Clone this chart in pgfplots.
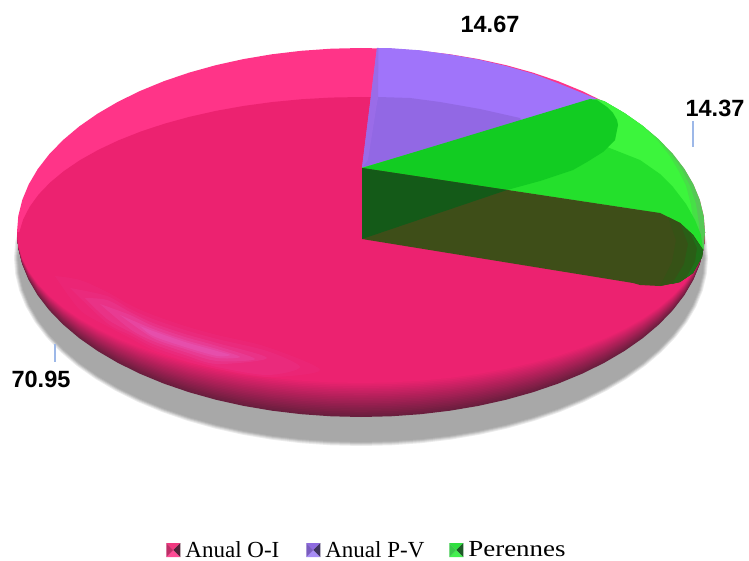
\documentclass[border=0pt]{standalone}
\usepackage{pgfplots}
\usepackage{pgfplotstable}
\usepackage{fontspec}
\pgfplotsset{compat=1.18}
\setmainfont{Liberation Serif}
\newfontfamily\lblfont{Liberation Sans}[BoldFont={Liberation Sans Bold}]
\definecolor{piemain}{HTML}{EC2270}
\definecolor{piedark}{HTML}{6A1E3E}
\definecolor{pielight}{HTML}{FF3488}
\definecolor{pglow}{HTML}{E66ED6}
\definecolor{lead}{HTML}{9DB8E8}
\definecolor{purpleband}{HTML}{A074FA}
\definecolor{purpleinner}{HTML}{9268E4}
\definecolor{purpleedge}{HTML}{9A6CE8}
\definecolor{greenrim}{HTML}{55C855}
\definecolor{greenhalf}{HTML}{46E046}
\definecolor{greenlight}{HTML}{3CF53C}
\definecolor{greenmid}{HTML}{24E02C}
\definecolor{greendeep}{HTML}{12CC22}
\definecolor{wallolive}{HTML}{3E4E18}
\definecolor{wallgreenA}{HTML}{365216}
\definecolor{wallgreenB}{HTML}{2A5E16}
\definecolor{wallgreenC}{HTML}{1E7018}
\definecolor{walldark}{HTML}{145A18}
\pgfplotstableread{
c s
1.0000 0.0000
0.9962 0.0872
0.9848 0.1736
0.9659 0.2588
0.9397 0.3420
0.9063 0.4226
0.8660 0.5000
0.8192 0.5736
0.7660 0.6428
0.7071 0.7071
0.6428 0.7660
0.5736 0.8192
0.5000 0.8660
0.4226 0.9063
0.3420 0.9397
0.2588 0.9659
0.1736 0.9848
0.0872 0.9962
0.0000 1.0000
-0.0872 0.9962
-0.1736 0.9848
-0.2588 0.9659
-0.3420 0.9397
-0.4226 0.9063
-0.5000 0.8660
-0.5736 0.8192
-0.6428 0.7660
-0.7071 0.7071
-0.7660 0.6428
-0.8192 0.5736
-0.8660 0.5000
-0.9063 0.4226
-0.9397 0.3420
-0.9659 0.2588
-0.9848 0.1736
-0.9962 0.0872
-1.0000 0.0000
}\halftab
% #1 colour, #2 sign (1 upper, -1 lower), #3 cx, #4 cy, #5 rx, #6 ry
\newcommand{\halfell}[6]{\addplot[forget plot,no markers,draw=none,fill=#1] table[x expr={#3+#5*\thisrow{c}},y expr={#4-(#2)*(#6)*\thisrow{s}}] \halftab;}
\newcommand{\shadowell}[3]{\halfell{#1}{1}{361}{258}{#2}{#3}\halfell{#1}{-1}{361}{258}{#2}{#3}}
\newcommand{\glow}[2]{\addplot[forget plot,no markers,smooth,draw=none,fill=pglow,fill opacity=#1] coordinates {#2};}
\newcommand{\poly}[2]{\addplot[forget plot,no markers,draw=none,fill=#1] coordinates {#2};}
\newcommand{\icon}[4]{%
  \path[draw=none,fill=#1] (0pt,-7pt)--(7pt,0pt)--(14pt,-7pt)--cycle;
  \path[draw=none,fill=#2] (0pt,-7pt)--(7pt,0pt)--(0pt,7pt)--cycle;
  \path[draw=none,fill=#3] (0pt,7pt)--(7pt,0pt)--(14pt,7pt)--cycle;
  \path[draw=none,fill=#4] (14pt,-7pt)--(7pt,0pt)--(14pt,7pt)--cycle;}
\definecolor{iA}{HTML}{FF4C96}\definecolor{iB}{HTML}{C02E68}\definecolor{iC}{HTML}{F0387F}\definecolor{iD}{HTML}{52243A}
\definecolor{jA}{HTML}{A78CF5}\definecolor{jB}{HTML}{7A5CC0}\definecolor{jC}{HTML}{8E6AE0}\definecolor{jD}{HTML}{403560}
\definecolor{kA}{HTML}{44F050}\definecolor{kB}{HTML}{3AC84A}\definecolor{kC}{HTML}{30E040}\definecolor{kD}{HTML}{1E5A28}
\begin{document}
\begin{tikzpicture}
\begin{axis}[
  scale only axis,width=749pt,height=560pt,
  xmin=0,xmax=749,ymin=0,ymax=560,y dir=reverse,
  hide axis,
  legend style={at={(axis cs:367,550)},anchor=center,draw=none,fill=none,
    legend columns=3,font=\fontsize{23}{23}\selectfont,
    /tikz/column 1/.style={column sep=3pt},
    /tikz/column 2/.style={column sep=25pt},
    /tikz/column 3/.style={column sep=3pt},
    /tikz/column 4/.style={column sep=23pt},
    /tikz/column 5/.style={column sep=3pt},
    inner sep=0pt,outer sep=0pt},
  legend cell align=left,
]
\path (axis cs:0,0) rectangle (axis cs:749,560);
% shadow
\shadowell{black!8}{347}{188}
\shadowell{black!15}{346}{187}
\shadowell{black!23}{345}{186}
\shadowell{black!30}{344}{185}
\shadowell{black!34}{343}{184}
% rim
\pgfplotsinvokeforeach{0,5,10,15,20,25,30,35,40,45,50,55,60,65,70,75,80,85,90,95,100}{
  \halfell{piemain!#1!piedark}{-1}{361}{232}{344}{185-0.34*#1}
}
% top band and inner top
\halfell{pielight}{1}{361}{232}{344}{184}
\halfell{piemain}{1}{361}{245}{343}{148}
% glow
\glow{0.05}{(55,276)(80,280)(107,292)(130,305)(153,315)(185,326)(217,335)(267,347)(320,370)(267,377)(217,369)(185,361)(153,350)(130,338)(107,326)(80,310)(55,276)}
\glow{0.08}{(70,288)(107,296)(130,309)(153,319)(185,330)(217,339)(267,351)(300,367)(267,375)(217,367)(185,358)(153,347)(130,335)(107,323)(70,288)}
\glow{0.12}{(85,298)(107,300)(130,312)(153,323)(185,334)(217,343)(267,358)(217,364)(185,355)(153,344)(130,332)(107,319)(85,298)}
\glow{0.16}{(100,304)(130,315)(153,326)(185,337)(217,346)(255,359)(217,361)(185,352)(153,341)(130,329)(100,304)}
\glow{0.2}{(120,315)(153,329)(185,340)(217,349)(240,357)(217,358)(185,349)(153,338)(120,315)}
\glow{0.22}{(140,326)(153,331)(185,342)(217,351)(230,355)(217,356)(185,347)(153,336)(140,326)}
% purple slice
\poly{purpleband}{(362,168)(377,48)(391,48.2)(420,50.3)(450,54.5)(478,59.4)(506,66)(534,74)(560,84)(597,99)}
\poly{purpleinner}{(362,168)(378,97)(410,98)(440,102)(480,109)(520,118)(527,130)}
\poly{purpleedge}{(362,168)(377,48)(378.5,48)(378,97)(368,160)}
% green slice
\poly{greenrim}{(362,168)(597,99)(604.2,101.2)(624.5,113.1)(642.8,125.9)(658.9,139.5)(672.8,153.8)(684.3,168.7)(693.3,184.1)(699.8,199.9)(703.7,215.9)(705,232)(703.7,250)(640,210)}
\poly{greenhalf}{(362,168)(597,99)(604.2,101.2)(624.5,113.1)(642.8,125.9)(658.9,139.5)(672,155)(682,170)(690,186)(696,204)(699,224)(699,245)(640,210)}
\poly{greenlight}{(362,168)(597,100)(604.2,101.2)(624.5,113.1)(642.8,125.9)(657,140)(669,155)(678,170)(686,186)(691,205)(694,225)(695,240)(640,210)}
\poly{greenmid}{(362,168)(607,147)(640,160)(660,174)(673,187)(686,204)(695,220)(701,235)(703,250)(640,210)}
\poly{greendeep}{(362,168)(590,99)(597,100)(607,107)(613,113)(617,120)(618,125)(615,140)(603,152)(587,162)(573,170)(540,181)(507,190)}
% wall
\poly{wallolive}{(362,168)(640,210)(660,213)(680,223)(693,235)(703,250)(702,257)(693,273)(680,282)(660,286)(640,285)(633,283)(362,239)}
\poly{wallgreenA}{(668,217)(680,223)(693,235)(703,250)(702,257)(693,273)(680,282)(660,286)(672,262)(676,240)}
\poly{wallgreenB}{(680,223)(693,235)(703,250)(702,257)(693,273)(680,282)(672,284)(684,264)(688,244)}
\poly{wallgreenC}{(690,232)(703,250)(702,257)(693,273)(686,278)(695,262)(697,248)}
\poly{walldark}{(362,168)(507,190)(362,239)}
% leaders
\addplot[forget plot,no markers,lead,line width=1.2pt] coordinates {(693,121)(693,147)};
\addplot[forget plot,no markers,lead,line width=1.2pt] coordinates {(55,344)(55,362)};
% labels
\node[font=\lblfont\bfseries\fontsize{23.5}{23.5}\selectfont] at (axis cs:490,24) {14.67};
\node[font=\lblfont\bfseries\fontsize{23.5}{23.5}\selectfont] at (axis cs:715,108) {14.37};
\node[font=\lblfont\bfseries\fontsize{23.5}{23.5}\selectfont] at (axis cs:41,379) {70.95};
% legend
\addlegendimage{legend image code/.code={\icon{iA}{iB}{iC}{iD}}}
\addlegendentry{Anual O-I}
\addlegendimage{legend image code/.code={\icon{jA}{jB}{jC}{jD}}}
\addlegendentry{Anual P-V}
\addlegendimage{legend image code/.code={\icon{kA}{kB}{kC}{kD}}}
\addlegendentry{\scalebox{1.17}[1]{Perennes}}
\end{axis}
\end{tikzpicture}
\end{document}
